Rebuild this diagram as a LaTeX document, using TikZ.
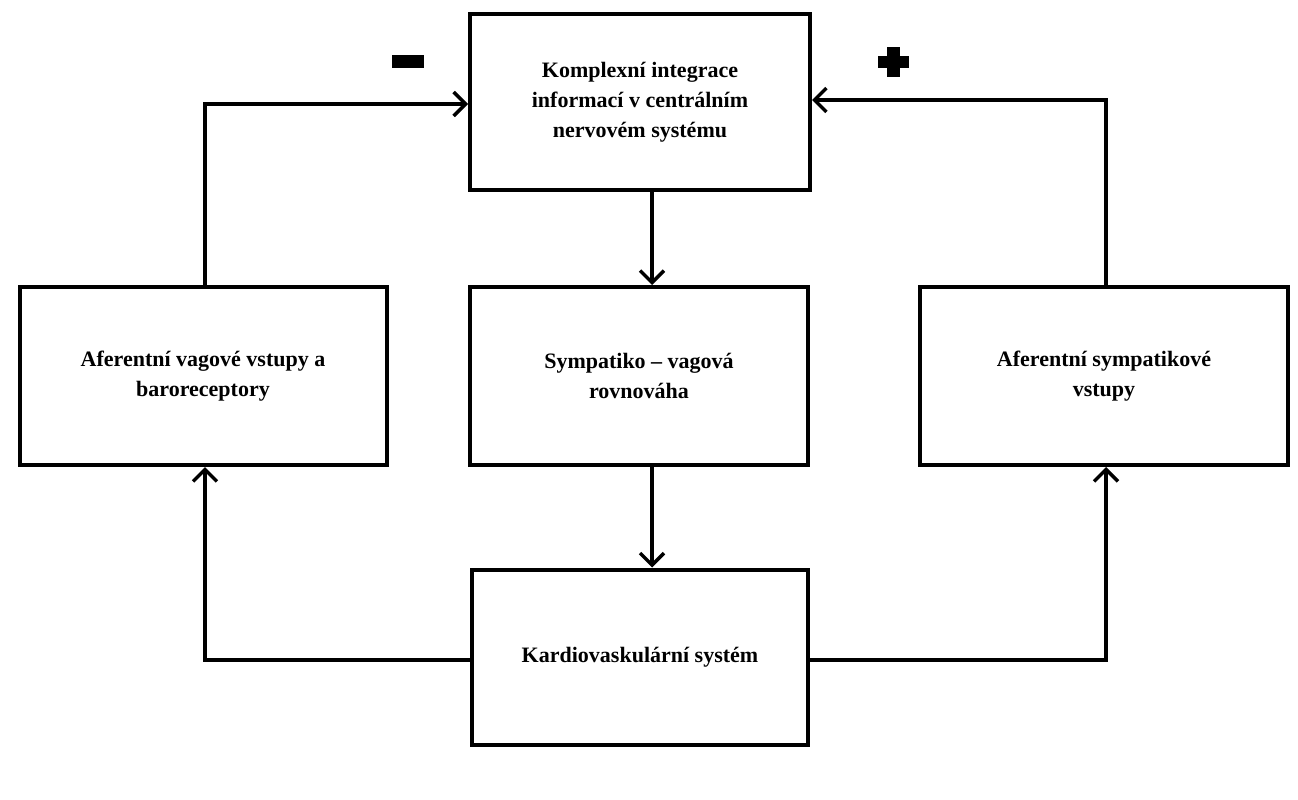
\documentclass[tikz,border=0pt]{standalone}
\usepackage{fontspec}
\setmainfont{Liberation Serif}
\usetikzlibrary{arrows.meta}
\begin{document}
\begin{tikzpicture}[x=1pt,y=-1pt,
  box/.style={draw,line width=4pt,minimum width=#1,inner sep=0pt,align=center,font=\bfseries\fontsize{22}{30}\selectfont},
  arr/.style={line width=3.5pt,-{Straight Barb[length=12pt,width=24pt,line width=3.5pt]}}]
\useasboundingbox (0,0) rectangle (1298,800);
\fill[white] (0,0) rectangle (1298,800);
\node[box=340pt,minimum height=175pt] (top) at (640,102) {Komplexní integrace\\informací v centrálním\\nervovém systému};
\node[box=367pt,minimum height=178pt] (left) at (203,376) {Aferentní vagové vstupy a\\baroreceptory};
\node[box=338pt,minimum height=178pt] (mid) at (639,376) {Sympatiko – vagová\\rovnováha};
\node[box=368pt,minimum height=178pt] (right) at (1104,376) {Aferentní sympatikové\\vstupy};
\node[box=336pt,minimum height=175pt] (bot) at (640,657) {Kardiovaskulární systém};
\coordinate (tl) at (205,104);
\coordinate (tr) at (1106,100);
\coordinate (bl) at (205,660);
\coordinate (br) at (1106,660);
\draw[arr] (top.south -| 652,0) -- (mid.north -| 652,0);
\draw[arr] (mid.south -| 652,0) -- (bot.north -| 652,0);
\draw[arr] (left.north -| tl) -- (tl) -- (top.west |- tl);
\draw[arr] (right.north -| tr) -- (tr) -- (top.east |- tr);
\draw[arr] (bot.west |- bl) -- (bl) -- (left.south -| bl);
\draw[arr] (bot.east |- br) -- (br) -- (right.south -| br);
\fill (392,55) rectangle (424,68);
\fill (887,47) rectangle (900,77);
\fill (878,56) rectangle (909,68);
\end{tikzpicture}
\end{document}
